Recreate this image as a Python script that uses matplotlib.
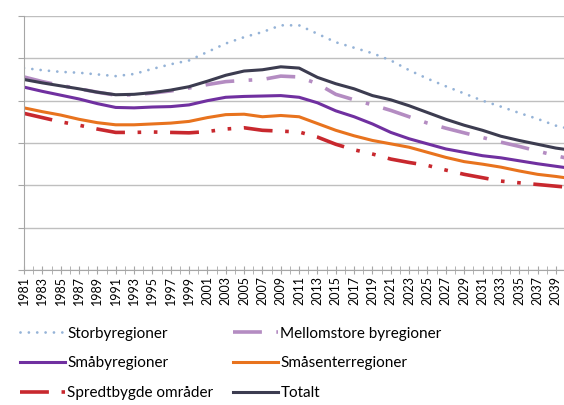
import matplotlib.pyplot as plt
from matplotlib.ticker import MultipleLocator

plt.rcParams['font.family'] = ['Lato', 'DejaVu Sans']

years = [1981, 1983, 1985, 1987, 1989, 1991, 1993, 1995, 1997, 1999,
         2001, 2003, 2005, 2007, 2009, 2011, 2013, 2015, 2017, 2019,
         2021, 2023, 2025, 2027, 2029, 2031, 2033, 2035, 2037, 2039, 2040]

storby = [4.77, 4.72, 4.68, 4.66, 4.62, 4.58, 4.63, 4.75, 4.86, 4.95,
          5.15, 5.35, 5.50, 5.62, 5.78, 5.78, 5.58, 5.38, 5.25, 5.12,
          4.95, 4.72, 4.52, 4.34, 4.17, 4.00, 3.86, 3.71, 3.57, 3.41, 3.36]
mellomstore = [4.56, 4.45, 4.36, 4.28, 4.20, 4.13, 4.14, 4.18, 4.23, 4.30,
               4.38, 4.45, 4.48, 4.50, 4.58, 4.56, 4.40, 4.15, 4.02, 3.90,
               3.77, 3.62, 3.47, 3.35, 3.24, 3.13, 3.02, 2.92, 2.81, 2.70, 2.65]
smaaby = [4.32, 4.22, 4.13, 4.04, 3.93, 3.84, 3.83, 3.85, 3.86, 3.90,
          4.00, 4.08, 4.10, 4.11, 4.12, 4.08, 3.95, 3.76, 3.62, 3.45,
          3.25, 3.10, 2.98, 2.86, 2.78, 2.70, 2.65, 2.58, 2.51, 2.45, 2.42]
smaasenter = [3.83, 3.74, 3.66, 3.56, 3.48, 3.43, 3.43, 3.45, 3.47, 3.51,
              3.60, 3.67, 3.68, 3.62, 3.65, 3.62, 3.46, 3.30, 3.17, 3.06,
              2.98, 2.90, 2.78, 2.66, 2.56, 2.50, 2.43, 2.34, 2.26, 2.21, 2.18]
spredt = [3.70, 3.60, 3.50, 3.42, 3.33, 3.25, 3.25, 3.26, 3.25, 3.24,
          3.27, 3.33, 3.36, 3.30, 3.28, 3.26, 3.14, 2.97, 2.84, 2.74,
          2.62, 2.54, 2.47, 2.36, 2.26, 2.18, 2.10, 2.06, 2.02, 1.98, 1.96]
totalt = [4.50, 4.42, 4.35, 4.28, 4.20, 4.14, 4.15, 4.19, 4.25, 4.33,
          4.46, 4.60, 4.70, 4.73, 4.80, 4.77, 4.55, 4.40, 4.28, 4.12,
          4.02, 3.88, 3.72, 3.56, 3.42, 3.30, 3.16, 3.06, 2.97, 2.88, 2.85]

fig = plt.figure(figsize=(5.64, 4.05), dpi=100)
ax = fig.add_axes([24 / 564, 1 - 270 / 405, 1 - 24 / 564, (270 - 16) / 405])

l_storby, = ax.plot(years, storby, color='#95B3D7', lw=2.0,
                    linestyle=(0, (0.01, 3)), dash_capstyle='round',
                    label='Storbyregioner')
l_mellom, = ax.plot(years, mellomstore, color='#B48CC2', lw=2.6,
                    linestyle=(0, (8, 4, 1, 4)), label='Mellomstore byregioner')
l_smaaby, = ax.plot(years, smaaby, color='#7030A0', lw=2.2, label='Småbyregioner')
l_senter, = ax.plot(years, smaasenter, color='#E8731E', lw=2.2, label='Småsenterregioner')
l_spredt, = ax.plot(years, spredt, color='#C8282E', lw=2.6,
                    linestyle=(0, (8, 3.5, 1, 3.5, 1, 3.5)), label='Spredtbygde områder')
l_total, = ax.plot(years, totalt, color='#3C3C50', lw=2.2, label='Totalt')

ax.set_xlim(1981, 1981 + 540 / 9.17)
ax.set_ylim(0, 6)
ax.yaxis.set_major_locator(MultipleLocator(1))
ax.set_yticklabels([])
ax.xaxis.set_major_locator(MultipleLocator(2, offset=1))
ax.xaxis.set_minor_locator(MultipleLocator(1))
ax.tick_params(axis='x', which='both', direction='inout', length=6, color='#A6A6A6',
               labelrotation=90, labelsize=9, pad=1)
ax.tick_params(axis='y', direction='out', length=4, color='#A6A6A6')
ax.grid(axis='y', color='#BFBFBF', lw=1)
ax.set_axisbelow(True)
for side in ['top', 'right']:
    ax.spines[side].set_visible(False)
for side in ['left', 'bottom']:
    ax.spines[side].set_color('#A6A6A6')

# legend under the plot, filled column by column
handles = [l_storby, l_smaaby, l_spredt, l_mellom, l_senter, l_total]
fig.legend(handles, [h.get_label() for h in handles], ncol=2, loc='upper left',
           bbox_to_anchor=(6 / 564, 1 - 313 / 405), frameon=False,
           fontsize=11, handlelength=2.95, handletextpad=0.15,
           columnspacing=1.3, labelspacing=1.02)

fig.savefig('out.png', dpi=100)
